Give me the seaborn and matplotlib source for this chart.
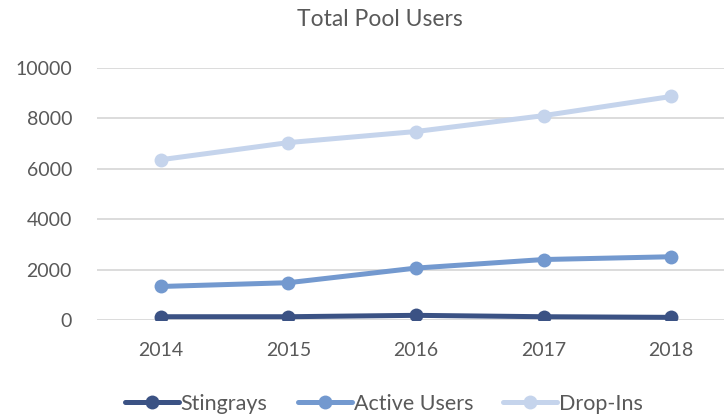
import pandas as pd
import matplotlib.pyplot as plt
import seaborn as sns

years = ["2014", "2015", "2016", "2017", "2018"]
stingrays = [130, 130, 185, 130, 105]
active_users = [1330, 1480, 2060, 2400, 2510]
drop_ins = [6360, 7040, 7480, 8110, 8870]

series_names = ["Stingrays", "Active Users", "Drop-Ins"]
colors = ["#3B5284", "#7399CF", "#C5D4EC"]

df = pd.DataFrame({
    "Year": years * 3,
    "Users": stingrays + active_users + drop_ins,
    "Series": [s for s in series_names for _ in years],
})

sns.set_style("white")
plt.rcParams['font.family'] = ['Lato', 'DejaVu Sans']
text_color = "#595959"

fig = plt.figure(figsize=(7.24, 4.17), dpi=100)
ax = fig.add_axes([97 / 724, (417 - 320) / 417, (735 - 97) / 724, 252 / 417])

sns.lineplot(data=df, x="Year", y="Users", hue="Series", palette=colors,
             marker="o", markersize=10, markeredgewidth=0, linewidth=3.6,
             ax=ax, sort=False)

ax.set_xlim(-0.5, 4.5)
ax.set_ylim(0, 10000)
ax.set_yticks(range(0, 10001, 2000))
ax.yaxis.grid(True, color="#D9D9D9", linewidth=1.3)
ax.set_axisbelow(True)
for s in ax.spines.values():
    s.set_visible(False)
ax.set_xlabel("")
ax.set_ylabel("")
ax.tick_params(axis="both", colors=text_color, labelsize=14, length=0)
ax.tick_params(axis="y", pad=18)
ax.tick_params(axis="x", pad=16)

fig.text(380 / 724, 1 - 20 / 417, "Total Pool Users", ha="center", va="center",
         fontsize=16.5, color=text_color)

handles, labels = ax.get_legend_handles_labels()
ax.legend(handles, labels, loc="center", bbox_to_anchor=(384 / 724, 1 - 404 / 417),
          bbox_transform=fig.transFigure, ncol=3, frameon=False, fontsize=15.5,
          labelcolor=text_color, handlelength=2.5, handletextpad=0.1, columnspacing=1.4)

fig.savefig("out.png", dpi=100)
